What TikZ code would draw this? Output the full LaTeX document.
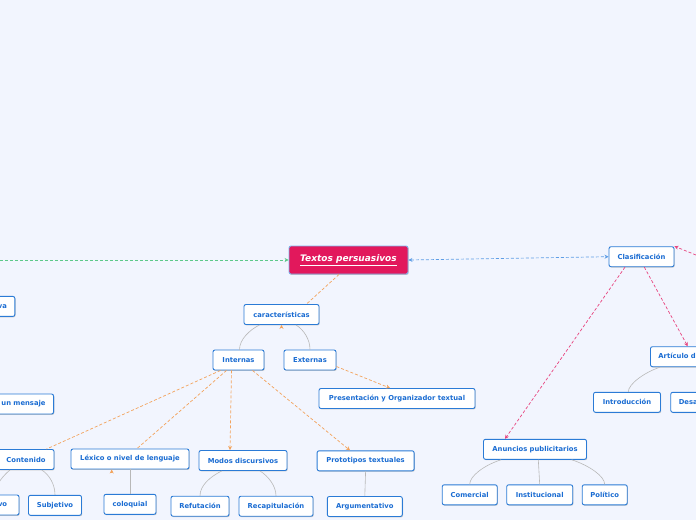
\documentclass[tikz,border=0pt]{standalone}
\usepackage{fontspec}
\setmainfont{DejaVu Sans}
\usetikzlibrary{arrows.meta,shadows}
\definecolor{bg}{HTML}{F2F5FE}
\definecolor{nodeb}{HTML}{2B7BD6}
\definecolor{nodet}{HTML}{1A6CD2}
\definecolor{tpfill}{HTML}{E2185C}
\definecolor{tpborder}{HTML}{7EB2EC}
\definecolor{cgreen}{HTML}{5DC98A}
\definecolor{cblue}{HTML}{5F9EE6}
\definecolor{cpink}{HTML}{E8457F}
\definecolor{corange}{HTML}{F3A35C}
\definecolor{cgrey}{HTML}{B8B8B8}
\begin{document}
\begin{tikzpicture}[x=1pt,y=-1pt,
  box/.style={draw=nodeb, fill=white, rounded corners=2pt, line width=0.9pt,
    text=nodet, font=\bfseries\fontsize{6.8}{8}\selectfont,
    minimum height=20pt, inner sep=2pt,
    general shadow={fill=black!22, shadow xshift=0.7pt, shadow yshift=-0.9pt}},
  tpbox/.style={draw=tpborder, fill=tpfill, rounded corners=2pt, line width=0.9pt,
    text=white, font=\bfseries\itshape\fontsize{9}{10}\selectfont,
    minimum height=28pt, minimum width=119pt, inner sep=2pt,
    general shadow={fill=black!22, shadow xshift=0.7pt, shadow yshift=-0.9pt}},
  dsh/.style={dash pattern=on 3pt off 2pt, line width=0.7pt},
  tip/.style={-{Stealth[length=4pt,width=4pt]}},
  greyc/.style={draw=cgrey, line width=0.6pt},
  orangec/.style={dsh, draw=corange},
  pinkc/.style={dsh, draw=cpink, tip},
]
\useasboundingbox (0,0) rectangle (696,520);
\clip (0,0) rectangle (696,520);
\fill[bg] (0,0) rectangle (696,520);

% nodes
\node[tpbox] (tp) at (348.5,260) {\underline{Textos persuasivos}};
\node[box, minimum width=75] (car) at (281.5,314.5) {características};
\node[box, minimum width=51] (in) at (238.5,360) {Internas};
\node[box, minimum width=52] (ex) at (310,360) {Externas};
\node[box, minimum width=156] (pr) at (397,398.5) {Presentación y Organizador textual};
\node[box, minimum width=56] (co) at (26,459.5) {Contenido};
\node[box, minimum width=118] (lx) at (130,459) {Léxico o nivel de lenguaje};
\node[box, minimum width=88] (mo) at (243,460.5) {Modos discursivos};
\node[box, minimum width=97] (pt) at (365.6,460.8) {Prototipos textuales};
\node[box, minimum width=56] (ob) at (-9,505) {Objetivo};
\node[box, minimum width=53] (su) at (55,505.3) {Subjetivo};
\node[box, minimum width=52] (cq) at (130,504.3) {coloquial};
\node[box, minimum width=58] (rf) at (200,506.2) {Refutación};
\node[box, minimum width=74] (rc) at (276,506.2) {Recapitulación};
\node[box, minimum width=75] (ag) at (364.8,506.5) {Argumentativo};
\node[box, minimum width=103] (an) at (535,449.3) {Anuncios publicitarios};
\node[box, minimum width=55] (cm) at (469.7,494.8) {Comercial};
\node[box, minimum width=66] (is) at (539.7,494.8) {Institucional};
\node[box, minimum width=45] (po) at (604.7,494.8) {Político};
\node[box, minimum width=65] (cl) at (641.5,256.7) {Clasificación};
\node[box, anchor=west, inner xsep=8pt] (ar) at (650,356.7) {Artículo de opinión};
\node[box, minimum width=67] (it) at (627,402.3) {Introducción};
\node[box, anchor=west, inner xsep=8pt] (de) at (670.3,402.3) {Desarrollo};
\node[box, anchor=east, text width=90pt, align=right, inner xsep=8pt] (um) at (54,404) {un mensaje};
\node[box, anchor=east, text width=60pt, align=right, inner xsep=8pt] (va) at (15.3,306.4) {va};

\coordinate (gL) at (0,260);
\coordinate (pR) at (696,255);

% long dashed relations
\draw[dsh, draw=cgreen, tip, -{Stealth[length=4pt,width=4pt,fill=cgreen]}] (gL) -- (tp.west);
\draw[dsh, draw=cblue, {Stealth[length=4pt,width=4pt]}-{Stealth[length=4pt,width=4pt]}] (tp.east) -- (cl.west);
\draw[pinkc] (pR) -- (cl.north east);
\draw[pinkc] ([xshift=-16.5]cl.south) -- ([xshift=-30]an.north);
\draw[pinkc] ([xshift=2.8]cl.south) -- ([xshift=37.7]ar.north west);

% orange
\draw[orangec] ([xshift=-9.5]tp.south) -- ([xshift=25]car.north);
\draw[orangec, tip] ([yshift=-3]car.south) -- (car.south);
\draw[orangec] ([xshift=-18]in.south) -- ([xshift=20.5]co.north);
\draw[orangec] ([xshift=-12]in.south) -- ([xshift=7]lx.north);
\draw[orangec, tip] ([xshift=-7]in.south) -- ([xshift=-13]mo.north);
\draw[orangec, tip] ([xshift=14]in.south) -- ([xshift=-15.6]pt.north);
\draw[orangec, tip] ([yshift=-6.5]ex.east) -- ([xshift=-7]pr.north);
\draw[orangec, tip] ([xshift=-18.3,yshift=-3]lx.south) -- ([xshift=-18.3]lx.south);

% grey hierarchy
\draw[greyc] ([xshift=-22]car.south) .. controls +(-10,5) and +(0,-10) .. ([xshift=1]in.north);
\draw[greyc] ([xshift=14.5]car.south) .. controls +(8,5) and +(0,-10) .. ([xshift=0]ex.north);
\draw[greyc] ([xshift=-16]co.south) .. controls +(-6,5) and +(0,-10) .. ([xshift=4]ob.north);
\draw[greyc] ([xshift=15.7]co.south) .. controls +(8,5) and +(0,-10) .. ([xshift=0]su.north);
\draw[greyc] (lx.south) -- (cq.north);
\draw[greyc] ([xshift=-21.3]mo.south) .. controls +(-12,6) and +(0,-10) .. (rf.north);
\draw[greyc] ([xshift=17]mo.south) .. controls +(8,5) and +(0,-10) .. (rc.north);
\draw[greyc] (pt.south) -- (ag.north);
\draw[greyc] ([xshift=-34]an.south) .. controls +(-18,6) and +(0,-8) .. (cm.north);
\draw[greyc] ([xshift=3.3]an.south) -- (is.north);
\draw[greyc] ([xshift=36.7]an.south) .. controls +(18,6) and +(0,-8) .. (po.north);
\draw[greyc] ([xshift=10]ar.south west) .. controls +(-15,5) and +(0,-8) .. ([xshift=1.3]it.north);
\end{tikzpicture}
\end{document}
